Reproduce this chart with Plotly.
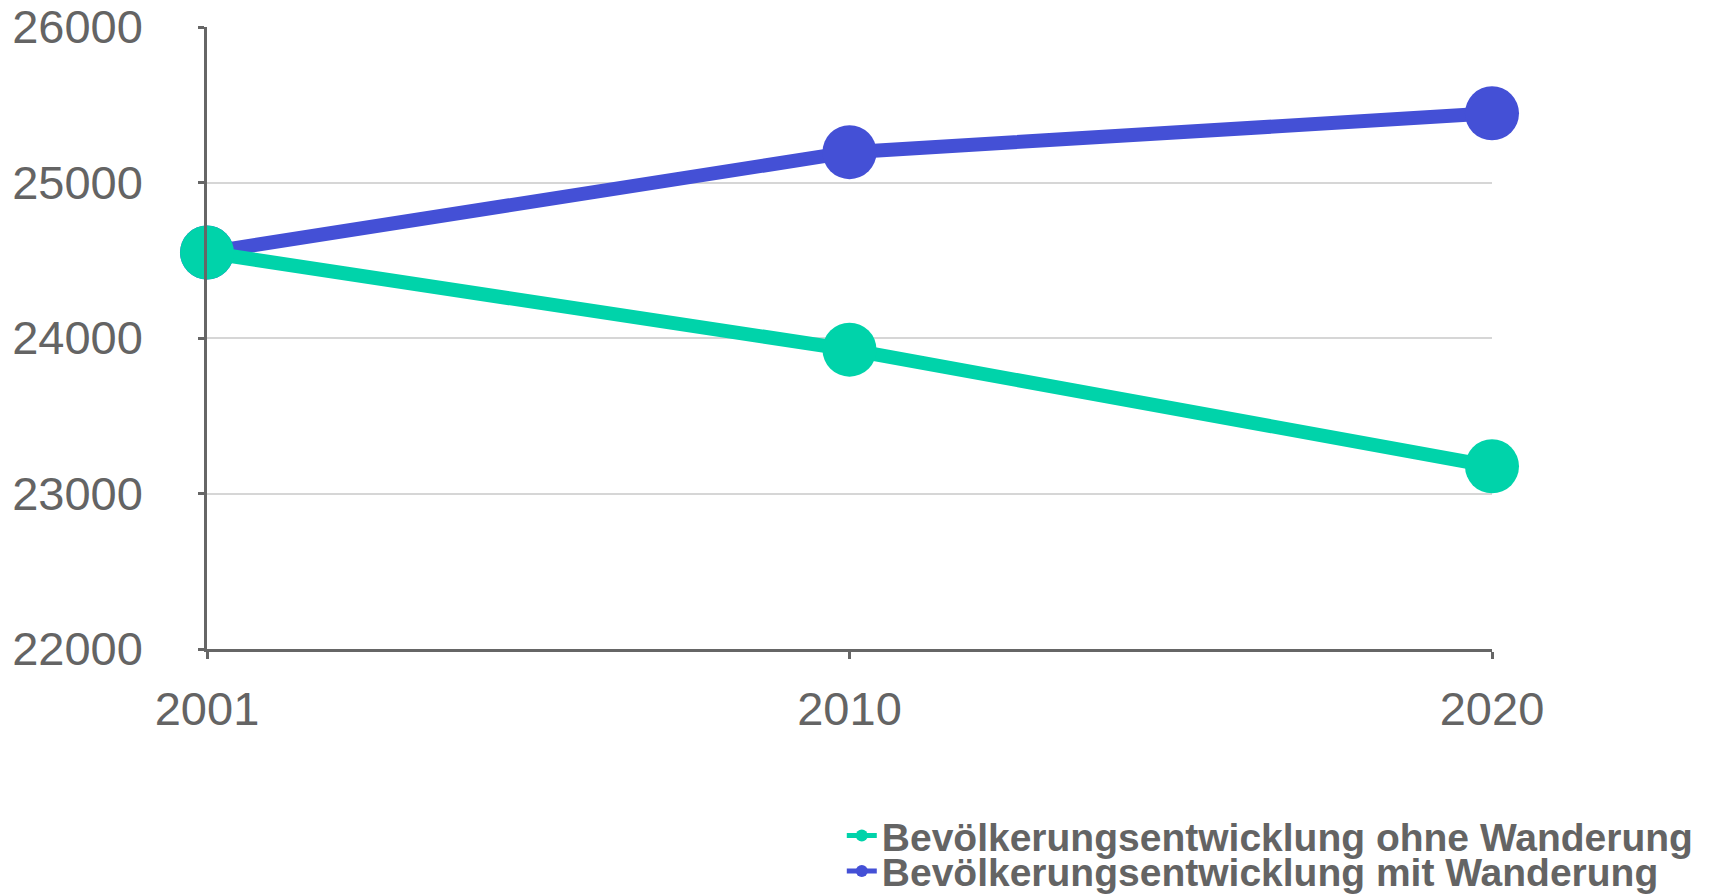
import plotly.graph_objects as go

years = ["2001", "2010", "2020"]
ohne_wanderung = [24550, 23925, 23175]
mit_wanderung = [24550, 25195, 25445]
y_ticks = [22000, 23000, 24000, 25000, 26000]

name_ohne = "Bevölkerungsentwicklung ohne Wanderung"
name_mit = "Bevölkerungsentwicklung mit Wanderung"

green = "#00D3AA"
blue = "#4450D6"
text_color = "#646464"

fig = go.Figure()
fig.add_trace(go.Scatter(
    x=years, y=mit_wanderung, name=name_mit, mode="lines+markers",
    line=dict(color=blue, width=14),
    marker=dict(color=blue, size=54),
    cliponaxis=False, legend="legend2",
))
fig.add_trace(go.Scatter(
    x=years, y=ohne_wanderung, name=name_ohne, mode="lines+markers",
    line=dict(color=green, width=14),
    marker=dict(color=green, size=54),
    cliponaxis=False, legend="legend",
))

legend_font = dict(family="Liberation Sans, Arial, sans-serif", size=39, color=text_color, weight="bold")
fig.update_layout(
    width=1702, height=887,
    margin=dict(l=199, r=218, t=19, b=246, autoexpand=False),
    paper_bgcolor="white", plot_bgcolor="white",
    font=dict(family="Liberation Sans, Arial, sans-serif", color=text_color),
    legend=dict(x=0.494, xanchor="left", y=-0.300, yanchor="middle",
                font=legend_font, bgcolor="rgba(0,0,0,0)", itemsizing="constant"),
    legend2=dict(x=0.494, xanchor="left", y=-0.357, yanchor="middle",
                 font=legend_font, bgcolor="rgba(0,0,0,0)", itemsizing="constant"),
    showlegend=True,
)
fig.update_xaxes(
    type="category", range=[0, 2],
    showline=True, linecolor="#666666", linewidth=2.5,
    ticks="outside", ticklen=7, tickwidth=2.5, tickcolor="#666666",
    showgrid=False, zeroline=False,
    tickfont=dict(size=47, color=text_color),
    ticklabelstandoff=10, ticklabeloverflow="allow",
)
fig.update_yaxes(
    range=[22000, 26000], tickvals=y_ticks, ticktext=[str(v) for v in y_ticks],
    showline=True, linecolor="#666666", linewidth=2.5,
    ticks="outside", ticklen=6, tickwidth=2.5, tickcolor="#666666",
    showgrid=True, gridcolor="#d6d6d6", gridwidth=2,
    zeroline=False,
    tickfont=dict(size=47, color=text_color),
    ticklabelstandoff=46, ticklabeloverflow="allow",
)

fig.write_html("out.html")
